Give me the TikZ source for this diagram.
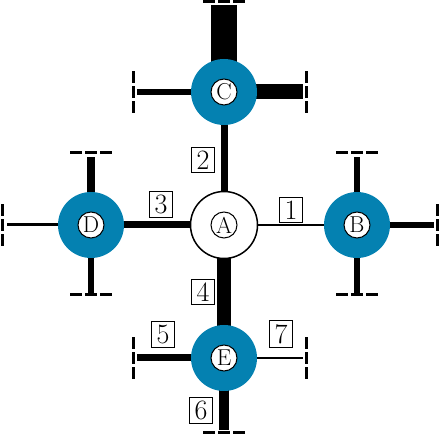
\documentclass[tikz,border=0pt]{standalone}
\usepackage{tikz}
\usetikzlibrary{backgrounds,calc}
\definecolor{siteblue}{HTML}{0481B1}
\tikzset{
  hub/.style={circle, draw=black, line width=1.5pt, fill=white, minimum size=67pt, inner sep=0pt},
  site/.style={circle, fill=siteblue, minimum size=66pt, inner sep=0pt},
  tag/.style={circle, draw=black, line width=1pt, fill=white, minimum size=26pt, inner sep=0pt, font=\fontsize{23}{26}\selectfont},
  link/.style={draw=black},
  numbox/.style={draw=black, line width=0.8pt, fill=white, inner xsep=5pt, inner ysep=3.5pt, font=\fontsize{28}{32}\selectfont},
  stopmark/.style={draw=black, line width=3pt, dash pattern=on 12pt off 3pt}
}
\begin{document}
\begin{tikzpicture}[x=1pt,y=1pt]
  \useasboundingbox (0,0) rectangle (439,436);

  % stations
  \node[hub, label={[tag]center:A}] (A) at (224,211) {};
  \node[site, label={[tag]center:B}] (B) at (357,211) {};
  \node[site, label={[tag]center:C}] (C) at (224,344) {};
  \node[site, label={[tag]center:D}] (D) at (91,211) {};
  \node[site, label={[tag]center:E}] (E) at (224,78) {};

  % free ends of the stubs
  \coordinate (cN) at (224,431);
  \coordinate (cW) at (137,344);
  \coordinate (cE) at (303,344);
  \coordinate (dN) at (91,279);
  \coordinate (dS) at (91,143);
  \coordinate (dW) at (7,211);
  \coordinate (bN) at (357,279);
  \coordinate (bS) at (357,143);
  \coordinate (bE) at (434,211);
  \coordinate (eW) at (137,78);
  \coordinate (eE) at (303,78);
  \coordinate (eS) at (224,6);

  \begin{scope}[on background layer]
    \foreach \from/\to/\w in {A/B/2.5, A/C/7, A/D/7, A/E/14} {
      \draw[link, line width=\w pt] (\from.center) -- (\to.center);
    }
    \foreach \from/\to/\w in {C/cN/26, C/cW/6, C/cE/15, D/dN/8, D/dS/6.5, D/dW/3,
                              B/bN/6, B/bS/6, B/bE/5.5, E/eW/7, E/eE/2.5, E/eS/10} {
      \draw[link, line width=\w pt] (\from.center) -- (\to);
    }
  \end{scope}

  % end marks
  \foreach \p/\dy in {cN/3, dN/4, bN/4, dS/-2, bS/-2, eS/-3} {
    \draw[stopmark] ($(\p)+(-21,\dy)$) -- ++(42,0);
  }
  \foreach \p/\dx in {cW/-4, eW/-4, dW/-5, cE/3, eE/3, bE/3} {
    \draw[stopmark] ($(\p)+(\dx,-21)$) -- ++(0,42);
  }

  % link numbers
  \node[numbox] (n1) at (291,226) {1};
  \node[numbox] (n2) at (203,276) {2};
  \node[numbox] (n3) at (161,232) {3};
  \node[numbox] (n4) at (203,144) {4};
  \node[numbox] (n5) at (163,102) {5};
  \node[numbox] (n6) at (201,26) {6};
  \node[numbox] (n7) at (281,102) {7};
\end{tikzpicture}
\end{document}
